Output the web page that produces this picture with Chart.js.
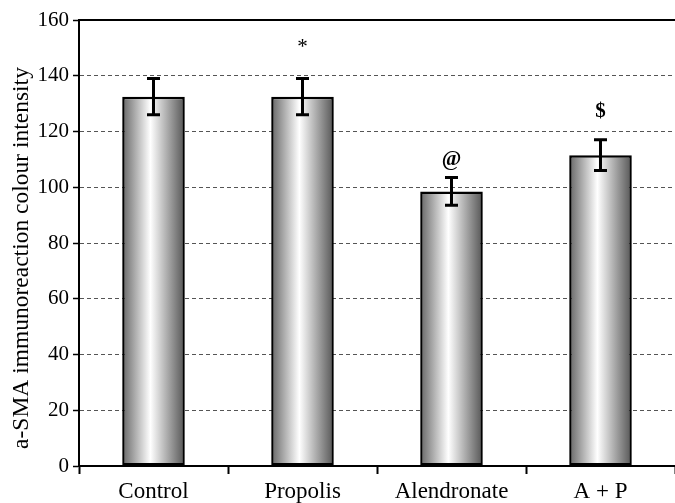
<!DOCTYPE html>
<html>
<head>
<meta charset="utf-8">
<script src="https://cdn.jsdelivr.net/npm/chart.js@4"></script>
<style>
  html, body { margin: 0; padding: 0; background: #fff; }
  #wrap { width: 675px; height: 503px; }
</style>
</head>
<body>
<div id="wrap"><canvas id="chart" width="675" height="503"></canvas></div>
<script>
// values
const groups = ['Control', 'Propolis', 'Alendronate', 'A + P'];
const means = [132.5, 132.5, 98.5, 111.5];
const errors = [6.5, 6.5, 5, 5.5];
const marks = ['', '*', '@', '$'];
const markAt = [0, 150, 110, 127];
const yTicks = [0, 20, 40, 60, 80, 100, 120, 140, 160];
const yTitle = 'a-SMA immunoreaction colour intensity';

const serif = '"Liberation Serif", "Times New Roman", serif';

function barGradient(ctx) {
    const chart = ctx.chart;
    const x = chart.scales.x;
    if (!x || x.width === undefined || ctx.dataIndex === undefined) return '#bbb';
    const cx = x.getPixelForValue(ctx.dataIndex);
    const w = (x.width / groups.length) * 0.42;
    const g = chart.ctx.createLinearGradient(cx - w / 2, 0, cx + w / 2, 0);
    g.addColorStop(0, '#666666');
    g.addColorStop(0.45, '#ffffff');
    g.addColorStop(1, '#555555');
    return g;
}

// error bars, top frame line, significance marks and the axis title
const extras = {
    id: 'extras',
    afterDatasetsDraw(chart) {
        const { ctx, scales: { x, y }, chartArea } = chart;
        ctx.save();
        ctx.strokeStyle = '#000';
        ctx.lineWidth = 3;
        means.forEach((m, i) => {
            const cx = x.getPixelForValue(i);
            const top = y.getPixelForValue(m + errors[i]);
            const bot = y.getPixelForValue(m - errors[i]);
            ctx.beginPath();
            ctx.moveTo(cx, top); ctx.lineTo(cx, bot);
            ctx.moveTo(cx - 6.5, top); ctx.lineTo(cx + 6.5, top);
            ctx.moveTo(cx - 6.5, bot); ctx.lineTo(cx + 6.5, bot);
            ctx.stroke();
        });
        ctx.lineWidth = 2;
        ctx.beginPath();
        ctx.moveTo(chartArea.left, chartArea.top);
        ctx.lineTo(chartArea.right, chartArea.top);
        ctx.stroke();

        ctx.fillStyle = '#000';
        ctx.textAlign = 'center';
        ctx.textBaseline = 'middle';
        marks.forEach((t, i) => {
            if (!t) return;
            ctx.font = (t === '*' ? '' : 'bold ') + '21px ' + serif;
            ctx.fillText(t, x.getPixelForValue(i), y.getPixelForValue(markAt[i]));
        });

        ctx.translate(22, 258);
        ctx.rotate(-Math.PI / 2);
        ctx.font = '23.5px ' + serif;
        ctx.fillText(yTitle, 0, 0);
        ctx.restore();
    }
};

new Chart(document.getElementById('chart'), {
    type: 'bar',
    data: {
        labels: groups,
        datasets: [{
            data: means,
            backgroundColor: barGradient,
            borderColor: '#000',
            borderWidth: 2.5,
            borderSkipped: false,
            categoryPercentage: 1,
            barPercentage: 0.42
        }]
    },
    options: {
        responsive: false,
        animation: false,
        layout: { padding: { top: 20, right: 0, left: 0, bottom: 0 } },
        plugins: { legend: { display: false }, tooltip: { enabled: false } },
        scales: {
            x: {
                offset: true,
                grid: {
                    offset: true,
                    drawOnChartArea: false,
                    tickLength: 8,
                    tickColor: '#000',
                    tickWidth: 2
                },
                border: { color: '#000', width: 2 },
                ticks: { color: '#000', font: { family: serif, size: 23 }, padding: 4 },
                afterFit: s => { s.height = 37; }
            },
            y: {
                min: 0,
                max: 160,
                afterBuildTicks: s => { s.ticks = yTicks.map(v => ({ value: v })); },
                grid: {
                    color: c => (c.tick && (c.tick.value === 0 || c.tick.value === 160)) ? 'rgba(0,0,0,0)' : '#555',
                    lineWidth: 1,
                    tickLength: 6,
                    tickColor: '#000',
                    tickWidth: 1.5
                },
                border: { color: '#000', width: 2, dash: [4, 3] },
                ticks: { color: '#000', font: { family: serif, size: 21 }, padding: 4 },
                afterFit: s => { s.width = 79; }
            }
        }
    },
    plugins: [extras]
});
</script>
</body>
</html>
